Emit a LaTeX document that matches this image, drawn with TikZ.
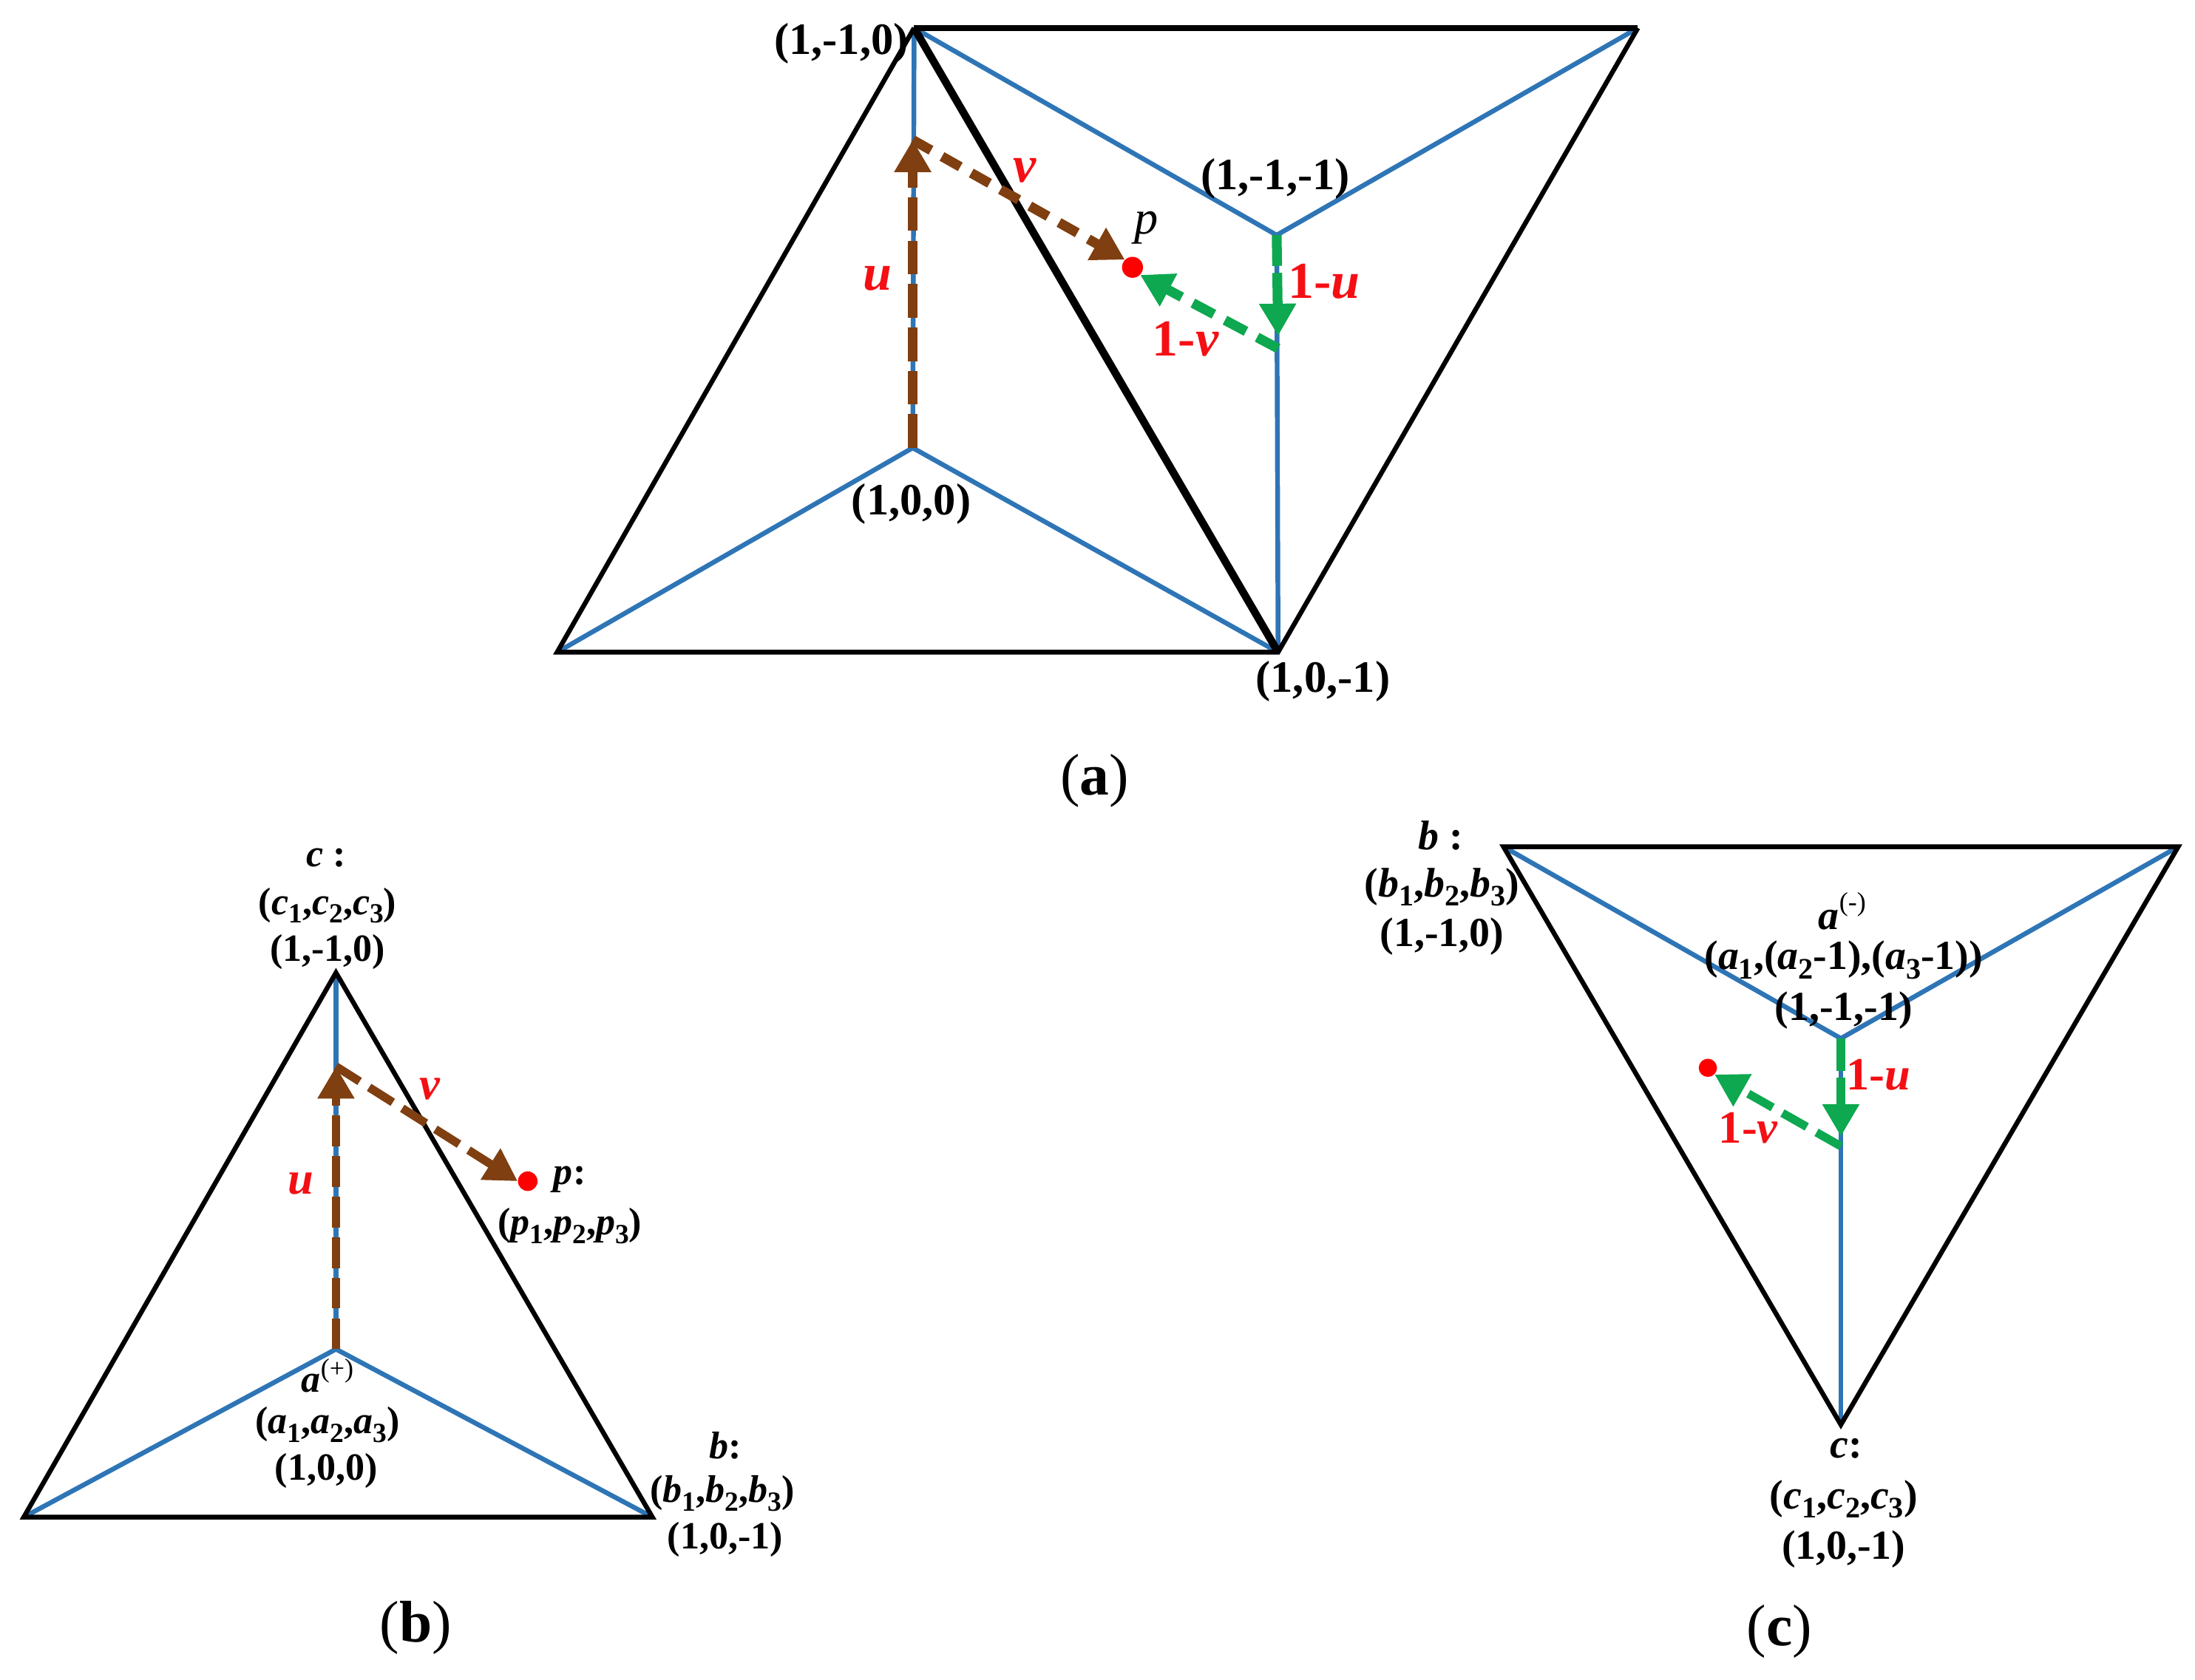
\documentclass[tikz,border=0pt]{standalone}
\usepackage{fontspec}
\setmainfont{Liberation Serif}
\usetikzlibrary{arrows.meta}
\definecolor{tblue}{HTML}{2E75B6}
\definecolor{tbrown}{HTML}{7F3F10}
\definecolor{tgreen}{HTML}{0DA84F}
\definecolor{tred}{HTML}{F40F14}
\newcommand{\Sb}[1]{\raisebox{-0.22em}{\scalebox{.72}{#1}}}
\newcommand{\Triple}[1]{(\textit{#1}\Sb{1},\textit{#1}\Sb{2},\textit{#1}\Sb{3})}
\tikzset{
  edgeK/.style={draw=black,line width=3.4pt,line join=miter},
  edgeT/.style={draw=black,line width=5.5pt},
  edgeB/.style={draw=tblue,line width=3.4pt},
  brownA/.style={draw=tbrown,line width=#1,dash pattern=on 24pt off 7pt,-{Triangle[length=23pt,width=25pt,fill=tbrown]}},
  brownA/.default=7pt,
  brownV/.style={draw=tbrown,line width=#1,dash pattern=on 15pt off 9pt,-{Triangle[length=23pt,width=25pt,fill=tbrown]}},
  brownV/.default=7pt,
  greenA/.style={draw=tgreen,line width=7pt,dash pattern=on 22pt off 5pt,-{Triangle[length=23pt,width=25pt,fill=tgreen]}},
  greenV/.style={draw=tgreen,line width=7pt,dash pattern=on 17pt off 9pt,-{Triangle[length=23pt,width=25pt,fill=tgreen]}},
  pdot/.style={circle,fill=red,inner sep=0pt,minimum size=15pt},
  lab/.style={inner sep=0pt,font=\fontsize{27.5}{30}\selectfont\bfseries},
  labC/.style={inner sep=0pt,font=\fontsize{29.5}{32}\selectfont\bfseries},
  labA/.style={inner sep=0pt,font=\fontsize{32}{34}\selectfont\bfseries},
  redl/.style={inner sep=0pt,text=tred,font=\fontsize{37}{40}\selectfont\bfseries},
  redm/.style={inner sep=0pt,text=tred,font=\fontsize{33}{36}\selectfont\bfseries},
  captext/.style={inner sep=0pt,font=\fontsize{42}{44}\selectfont},
}
\begin{document}
\begin{tikzpicture}[x=1pt,y=-1pt]
\useasboundingbox (0,0) rectangle (1568,1200);
% ----- panel a
\coordinate (aT) at (653,20);
\coordinate (aR) at (1170,20);
\coordinate (aL) at (398,466);
\coordinate (aB) at (913,466);
\coordinate (aC) at (652,320);
\coordinate (aD) at (912,168);
\coordinate (aU) at (652,100);
\coordinate (aG) at (913,249);
\coordinate (aE) at (913,240);
\node[pdot] (aP) at (809,191) {};
\draw[edgeB] (aL) -- (aC) -- (aB);
\draw[edgeB] (aC) -- (aT);
\draw[edgeB] (aT) -- (aD) -- (aR);
\draw[edgeB] (aD) -- (aB);
\draw[edgeK] (aT) -- (aL) -- (aB) -- (aR);
\draw[edgeT,line width=4.5pt] (aT) -- (aR);
\draw[edgeT] (aT) -- (aB);
\draw[brownA] (aC) -- (aU);
\draw[brownV] (aU) -- (aP.north west);
\draw[greenA] (aD) -- (aE);
\draw[greenV] (aG) -- (aP.south east);
\node[labA] (la1) at (601,31) {(1,-1,0)};
\node[labA] (la2) at (911,128) {(1,-1,-1)};
\node[labA] (la3) at (651,360) {(1,0,0)};
\node[labA] (la4) at (945,487) {(1,0,-1)};
\node[redl] (lau) at (627,199) {\textit{u}};
\node[redl] (lav) at (732,122) {\textit{v}};
\node[inner sep=0pt,font=\fontsize{34}{36}\selectfont] (lap) at (819,163) {\textit{p}};
\node[redl] (la1u) at (946,201) {1-\textit{u}};
\node[redl] (la1v) at (847,242) {1-\textit{v}};
\node[captext] (capa) at (782,558) {(\textbf{a})};
% ----- panel b
\coordinate (bT) at (240,695);
\coordinate (bL) at (17,1084);
\coordinate (bR) at (466,1084);
\coordinate (bC) at (240,964);
\coordinate (bU) at (240,762);
\node[pdot,minimum size=14pt] (bP) at (377,844) {};
\draw[edgeB] (bL) -- (bC) -- (bR);
\draw[edgeB] (bC) -- (bT);
\draw[edgeK] (bT) -- (bL) -- (bR) -- cycle;
\draw[brownA=6pt,dash pattern=on 22pt off 7pt] (bC) -- (bU);
\draw[brownV=6pt,dash pattern=on 20pt off 8pt] (bU) -- (bP.west);
\node[lab] (lb1) at (233,613) {\textit{c} :};
\node[lab] (lb2) at (234,647) {\Triple{c}};
\node[lab] (lb3) at (234,680) {(1,-1,0)};
\node[redm] (lbu) at (215,846) {\textit{u}};
\node[redm] (lbv) at (307,778) {\textit{v}};
\node[lab] (lb4) at (407,843) {\textit{p}:};
\node[lab] (lb5) at (407,876) {\Triple{p}};
\node[lab] (lb6) at (234,983) {\textit{a}\raisebox{.4em}{\fontsize{19}{20}\selectfont\mdseries(+)}};
\node[lab] (lb7) at (234,1018) {\Triple{a}};
\node[lab] (lb8) at (233,1051) {(1,0,0)};
\node[lab] (lb9) at (518,1033) {\textit{b}:};
\node[lab] (lb10) at (516,1067) {\Triple{b}};
\node[lab] (lb11) at (518,1100) {(1,0,-1)};
\node[captext] (capb) at (297,1163) {(\textbf{b})};
% ----- panel c
\coordinate (cL) at (1074,605);
\coordinate (cR) at (1556,605);
\coordinate (cB) at (1315,1018);
\coordinate (cC) at (1315,742);
\coordinate (cG) at (1315,819);
\coordinate (cE) at (1315,812);
\node[pdot,minimum size=13pt] (cP) at (1220,763) {};
\draw[edgeB] (cL) -- (cC) -- (cR);
\draw[edgeB] (cC) -- (cB);
\draw[edgeK] (cL) -- (cR) -- (cB) -- cycle;
\draw[greenA,line width=6pt,dash pattern=on 23pt off 5pt] (cC) -- (cE);
\draw[greenV,line width=6pt,dash pattern=on 20pt off 8pt] (cG) -- (cP.south east);
\node[labC] (lc1) at (1029,597) {\textit{b} :};
\node[labC] (lc2) at (1030,634) {\Triple{b}};
\node[labC] (lc3) at (1030,669) {(1,-1,0)};
\node[labC] (lc4) at (1316,651) {\textit{a}\raisebox{.45em}{\fontsize{19}{20}\selectfont\mdseries(-)}};
\node[labC] (lc5) at (1317,686) {(\textit{a}\Sb{1},(\textit{a}\Sb{2}-1),(\textit{a}\Sb{3}-1))};
\node[labC] (lc6) at (1317,722) {(1,-1,-1)};
\node[redm] (lc1u) at (1342,768) {1-\textit{u}};
\node[redm] (lc1v) at (1249,806) {1-\textit{v}};
\node[labC] (lc7) at (1319,1035) {\textit{c}:};
\node[labC] (lc8) at (1317,1071) {\Triple{c}};
\node[labC] (lc9) at (1317,1107) {(1,0,-1)};
\node[captext] (capc) at (1271,1166) {(\textbf{c})};
\end{tikzpicture}
\end{document}
